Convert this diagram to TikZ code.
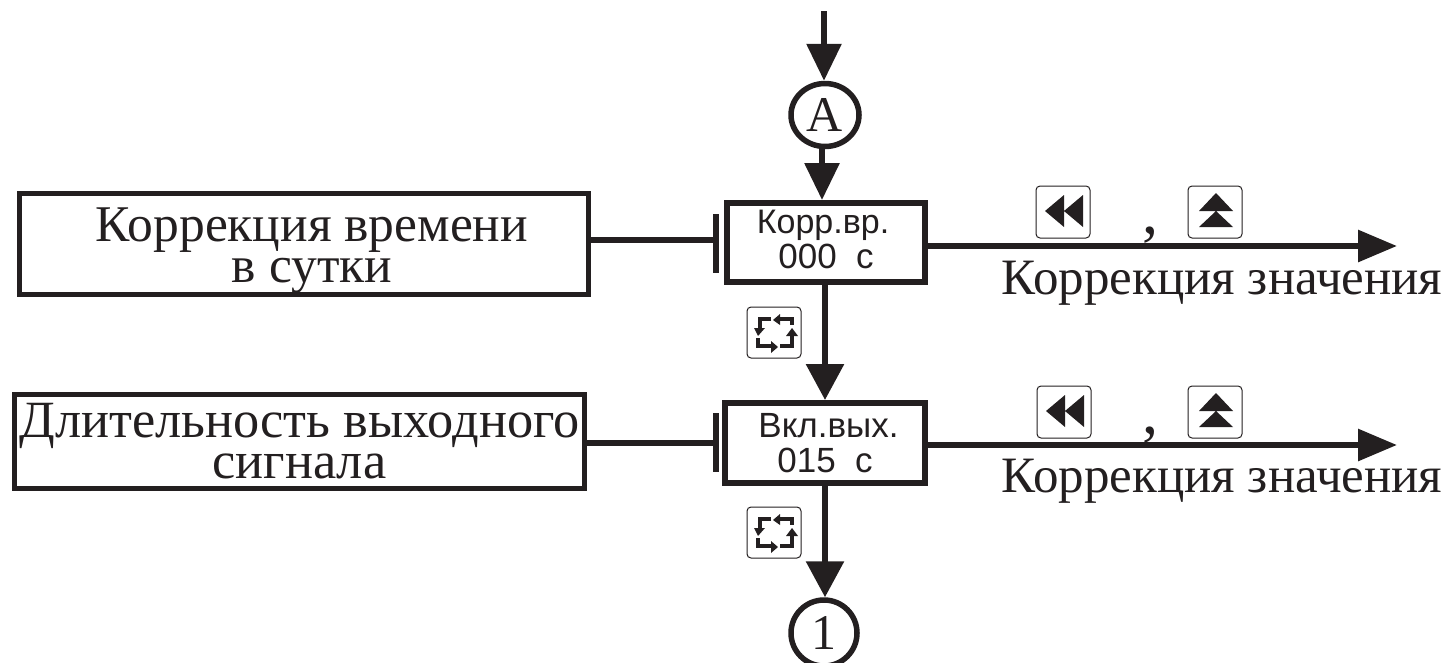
\documentclass[tikz,border=0pt]{standalone}
\usepackage{fontspec}
\setmainfont{Liberation Serif}
\newfontfamily\lcdfont{Liberation Sans}
\usetikzlibrary{arrows.meta,shapes.geometric}
\definecolor{ink}{HTML}{231F20}
\tikzset{
  every node/.style={text=ink,inner sep=0pt},
  lbox/.style={draw=ink,line width=5pt,fill=white,align=center},
  lcd/.style={draw=ink,line width=6pt,fill=white,minimum width=198pt,minimum height=79pt,align=center,font=\fontsize{35}{35}\lcdfont},
  conn/.style={draw=ink,line width=6pt},
  bigarrow/.style={conn,-{Triangle[length=37pt,width=34pt]}},
  widearrow/.style={conn,-{Triangle[length=36pt,width=37pt]}},
  sidearrow/.style={conn,-{Triangle[length=39pt,width=31pt]}},
  stopbar/.style={fill=ink,minimum width=6pt,minimum height=59pt},
  label/.style={anchor=base,font=\fontsize{51}{51}\selectfont},
  commamark/.style={anchor=base,font=\fontsize{64}{64}\selectfont},
  marker/.style={ellipse,draw=ink,line width=5.5pt,fill=white,minimum width=68pt,minimum height=63pt,font=\fontsize{50}{50}\selectfont},
  keyface/.style={draw=ink,line width=1pt,rounded corners=4pt},
  cyc/.style={draw=ink,line width=3.6pt},
  rewkey/.pic={
    \draw[keyface] (0,0) rectangle (54,52);
    \fill[ink] (9,25)--(28,9)--(28,41)--cycle (28,25)--(47,9)--(47,41)--cycle;
  },
  upkey/.pic={
    \draw[keyface] (0,0) rectangle (54,52);
    \fill[ink] (28,7)--(11,25)--(45,25)--cycle (28,25)--(11,41)--(45,41)--cycle;
  },
  cyckey/.pic={
    \draw[keyface] (0,0) rectangle (54,51);
    \draw[cyc] (24,12)--(13,12)--(13,22);
    \fill[ink] (7,21)--(18,21)--(11,29)--cycle;
    \draw[cyc] (33,12)--(45,12)--(45,18);
    \fill[ink] (33,7)--(33,18)--(26,13)--cycle;
    \draw[cyc] (45,29)--(45,39)--(33,39);
    \fill[ink] (39,29)--(51,29)--(45,21)--cycle;
    \draw[cyc] (11,31)--(11,39)--(24,39);
    \fill[ink] (24,34)--(24,46)--(31,40)--cycle;
  }
}
\begin{document}
\begin{tikzpicture}[x=1pt,y=-1pt]
\useasboundingbox (0,0) rectangle (1451,662);
\clip (0,0) rectangle (1451,662);
% nodes
\node[lbox,minimum width=569pt,minimum height=101pt,font=\fontsize{51.5}{41}\selectfont] (lb1) at (304,244) {\rule{0pt}{48pt}\hspace*{16pt}Коррекция времени\\\hspace*{16pt}в сутки};
\node[lbox,minimum width=570pt,minimum height=94pt,font=\fontsize{52.3}{41}\selectfont] (lb2) at (299.5,441.5) {Длительность выходного\\сигнала};
\node[lcd] (cb1) at (826,242.5) {\fontsize{34}{35}\selectfont Корр.вр.\hspace*{6pt}\\000~~с\rule[-6pt]{0pt}{6pt}};
\node[lcd,minimum width=200pt,minimum height=80pt] (cb2) at (825,443) {\hspace*{7pt}Вкл.вых.\\015~~с};
\node[stopbar] (bar1) at (716,243.5) {};
\node[stopbar] (bar2) at (716,442.5) {};
\node[marker] (mA) at (825,115) {A};
\node[marker,minimum width=66pt,minimum height=66pt] (m1) at (824,633) {1};
\coordinate (top) at (824,11);
\coordinate (j1) at (716,240);
\coordinate (j2) at (716,443);
\coordinate (r1) at (1397,246);
\coordinate (r2) at (1397,445);
\node[label] (t1) at (1222,294) {Коррекция значения};
\node[label] (t2) at (1222,492) {Коррекция значения};
\node[commamark] (c1) at (1150,233) {,};
\node[commamark] (c2) at (1150,433) {,};
% connectors
\draw[bigarrow] (top) -- (top |- mA.north);
\draw[bigarrow] (mA.south -| 822,0) -- (822,200);
\draw[widearrow] (cb1.south -| 825,0) -- (825,400);
\draw[widearrow] (cb2.south) -- (m1.north -| cb2.south);
\draw[conn] (lb1.east |- j1) -- (j1);
\draw[conn] (lb2.east |- j2) -- (j2);
\draw[sidearrow] (cb1.east |- r1) -- (r1);
\draw[sidearrow] (cb2.east |- r2) -- (r2);
% keys
\pic at (1036,186) {rewkey};
\pic at (1188,186) {upkey};
\pic at (1037,386) {rewkey};
\pic at (1188,386) {upkey};
\pic at (747,307) {cyckey};
\pic at (747,507) {cyckey};
\end{tikzpicture}
\end{document}
